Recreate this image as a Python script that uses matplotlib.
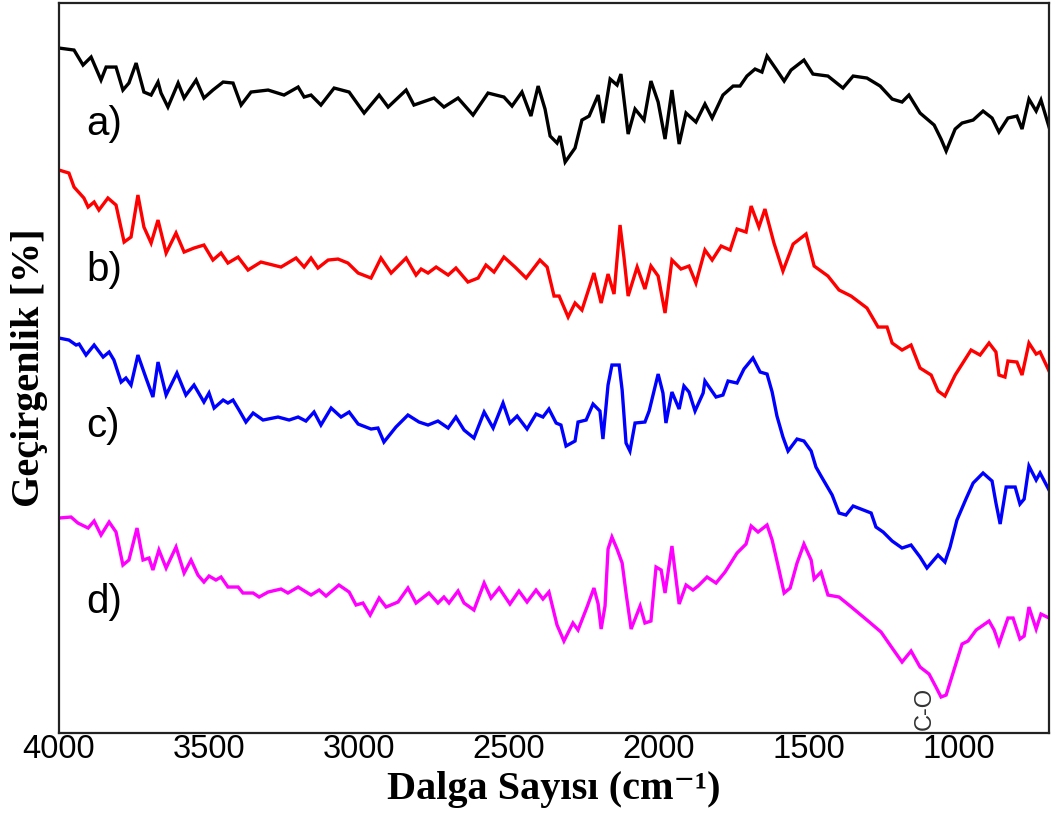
import matplotlib
matplotlib.use("Agg")
import matplotlib.pyplot as plt
from matplotlib import font_manager

# ---------------- data (wavenumber cm-1, transmittance a.u., offset per trace) ----------------
wn_a = [4000, 3950, 3920, 3893, 3860, 3843, 3810, 3787, 3767, 3743, 3717, 3693, 3670, 3660, 3637,
        3603, 3583, 3543, 3517, 3487, 3453, 3420, 3393, 3360, 3303, 3250, 3203, 3183, 3160, 3127,
        3083, 3033, 2983, 2933, 2903, 2843, 2817, 2750, 2717, 2670, 2620, 2570, 2517, 2490, 2457,
        2427, 2403, 2380, 2363, 2340, 2330, 2313, 2280, 2257, 2233, 2203, 2187, 2163, 2140, 2127,
        2103, 2080, 2050, 2027, 2003, 1980, 1957, 1933, 1910, 1877, 1847, 1823, 1787, 1753, 1730,
        1707, 1680, 1657, 1640, 1610, 1583, 1560, 1517, 1487, 1437, 1387, 1353, 1307, 1263, 1223,
        1190, 1167, 1130, 1083, 1060, 1043, 1013, 990, 953, 920, 890, 867, 837, 807, 790,
        767, 743, 727, 700]
t_a = [685, 683, 668, 676, 653, 666, 666, 643, 650, 670, 641, 638, 651, 640, 626,
       650, 635, 653, 635, 643, 651, 650, 628, 641, 643, 638, 646, 636, 638, 628,
       645, 641, 620, 638, 626, 643, 628, 635, 626, 635, 618, 640, 636, 627, 641,
       617, 647, 624, 597, 590, 597, 571, 585, 613, 617, 638, 610, 654, 648, 659,
       599, 624, 613, 652, 631, 594, 643, 589, 620, 611, 629, 615, 638, 647, 647,
       657, 664, 661, 677, 664, 652, 663, 673, 659, 657, 645, 657, 655, 647, 634,
       631, 638, 620, 608, 594, 582, 604, 610, 613, 622, 615, 601, 615, 617, 604,
       634, 622, 633, 606]

wn_b = [4000, 3967, 3950, 3917, 3903, 3883, 3867, 3837, 3810, 3783, 3760, 3737, 3717, 3693, 3670,
        3643, 3610, 3583, 3550, 3517, 3487, 3460, 3437, 3403, 3370, 3327, 3260, 3210, 3183, 3160,
        3137, 3103, 3070, 3037, 3003, 2960, 2927, 2893, 2843, 2810, 2793, 2770, 2743, 2703, 2677,
        2637, 2603, 2577, 2550, 2517, 2480, 2443, 2397, 2373, 2350, 2333, 2303, 2280, 2257, 2217,
        2193, 2170, 2150, 2130, 2117, 2103, 2073, 2047, 2027, 2003, 1980, 1957, 1927, 1900, 1877,
        1847, 1823, 1793, 1763, 1740, 1710, 1693, 1667, 1647, 1617, 1587, 1553, 1510, 1483, 1437,
        1400, 1360, 1307, 1270, 1240, 1223, 1190, 1160, 1130, 1093, 1070, 1047, 1013, 960, 930,
        900, 877, 867, 847, 837, 807, 790, 767, 743, 730, 700]
t_b = [563, 560, 546, 535, 526, 531, 523, 535, 528, 491, 496, 538, 506, 490, 513,
       480, 500, 481, 485, 488, 473, 480, 470, 476, 463, 471, 466, 475, 466, 475,
       465, 473, 474, 470, 460, 455, 475, 460, 475, 458, 464, 460, 466, 458, 465,
       451, 455, 468, 461, 476, 466, 455, 473, 466, 437, 437, 416, 430, 423, 460,
       430, 459, 439, 508, 476, 437, 466, 444, 467, 457, 420, 473, 464, 467, 450,
       483, 473, 487, 483, 504, 501, 527, 506, 524, 490, 462, 489, 499, 467, 457,
       443, 437, 425, 406, 406, 390, 383, 388, 365, 358, 342, 337, 358, 383, 378,
       390, 381, 358, 356, 372, 371, 358, 390, 379, 381, 362]

wn_c = [4000, 3967, 3943, 3933, 3910, 3883, 3853, 3833, 3817, 3793, 3777, 3760, 3737, 3710, 3687,
        3670, 3643, 3607, 3577, 3550, 3517, 3500, 3483, 3453, 3437, 3420, 3400, 3377, 3353, 3320,
        3270, 3233, 3203, 3177, 3150, 3127, 3093, 3060, 3033, 3003, 2960, 2937, 2917, 2877, 2837,
        2800, 2770, 2737, 2703, 2677, 2650, 2617, 2583, 2553, 2520, 2497, 2473, 2440, 2410, 2387,
        2367, 2343, 2327, 2310, 2280, 2270, 2243, 2220, 2197, 2187, 2170, 2157, 2133, 2123, 2110,
        2097, 2080, 2047, 2033, 2003, 1987, 1977, 1957, 1933, 1917, 1900, 1880, 1853, 1847, 1810,
        1787, 1770, 1740, 1717, 1687, 1663, 1640, 1623, 1607, 1587, 1570, 1540, 1517, 1493, 1477,
        1460, 1423, 1400, 1377, 1353, 1293, 1277, 1253, 1223, 1190, 1160, 1130, 1107, 1070, 1047,
        1030, 1007, 977, 953, 920, 890, 877, 863, 843, 813, 797, 783, 767, 743, 730, 700]
t_c = [395, 393, 388, 389, 378, 388, 376, 381, 373, 351, 355, 348, 378, 355, 336,
       371, 338, 360, 338, 348, 331, 340, 325, 333, 330, 333, 323, 311, 320, 313,
       316, 313, 316, 312, 321, 308, 325, 316, 321, 309, 304, 305, 291, 306, 318,
       311, 308, 312, 305, 316, 303, 295, 321, 305, 330, 310, 317, 304, 319, 316,
       324, 310, 308, 287, 292, 311, 313, 329, 322, 294, 348, 368, 368, 343, 290,
       282, 310, 311, 322, 359, 340, 310, 341, 324, 347, 341, 322, 340, 352, 336,
       338, 352, 350, 364, 375, 361, 359, 341, 317, 296, 282, 294, 292, 282, 266,
       257, 238, 220, 218, 227, 220, 206, 201, 192, 185, 188, 176, 165, 178, 171,
       186, 213, 234, 250, 260, 252, 230, 209, 246, 246, 229, 234, 267, 253, 260, 243]

wn_d = [4000, 3960, 3937, 3903, 3883, 3860, 3833, 3810, 3787, 3767, 3740, 3720, 3700, 3687, 3667,
        3643, 3610, 3583, 3560, 3537, 3517, 3500, 3477, 3460, 3437, 3403, 3387, 3353, 3333, 3303,
        3260, 3237, 3203, 3160, 3133, 3110, 3067, 3033, 3010, 2987, 2963, 2933, 2910, 2870, 2837,
        2810, 2767, 2737, 2717, 2700, 2670, 2650, 2617, 2583, 2560, 2533, 2497, 2467, 2440, 2410,
        2387, 2367, 2340, 2317, 2287, 2270, 2240, 2217, 2203, 2193, 2180, 2170, 2157, 2140, 2123,
        2110, 2093, 2063, 2047, 2027, 2010, 1993, 1980, 1957, 1933, 1910, 1887, 1870, 1840, 1810,
        1780, 1740, 1710, 1693, 1670, 1640, 1623, 1600, 1583, 1563, 1540, 1517, 1493, 1483, 1460,
        1437, 1400, 1363, 1307, 1260, 1223, 1190, 1160, 1130, 1100, 1077, 1060, 1043, 1020, 990,
        970, 943, 900, 883, 867, 837, 820, 797, 783, 767, 743, 727, 700]
t_d = [215, 216, 210, 205, 212, 198, 211, 201, 168, 173, 205, 173, 175, 163, 183,
       165, 186, 160, 173, 158, 151, 157, 153, 156, 146, 146, 140, 140, 136, 141,
       144, 140, 146, 138, 143, 137, 148, 141, 128, 130, 118, 135, 126, 131, 145,
       130, 140, 130, 136, 130, 142, 130, 123, 150, 135, 145, 129, 142, 131, 143,
       134, 141, 108, 92, 110, 103, 126, 145, 129, 104, 127, 184, 196, 184, 170,
       140, 104, 127, 110, 112, 166, 163, 140, 187, 129, 148, 143, 147, 156, 150,
       161, 180, 189, 207, 201, 208, 193, 163, 140, 145, 170, 189, 173, 154, 161,
       138, 136, 127, 113, 101, 85, 71, 82, 66, 59, 46, 36, 38, 60, 89,
       92, 103, 112, 103, 89, 115, 115, 94, 97, 126, 104, 119, 115]

series = [(wn_a, t_a, "black"), (wn_b, t_b, "#ff0000"), (wn_c, t_c, "#0000ff"), (wn_d, t_d, "#ff00ff")]
labels = ["a)", "b)", "c)", "d)"]
label_y = [609, 463, 307, 131]
xticks = [4000, 3500, 3000, 2500, 2000, 1500, 1000]

# ---------------- fonts ----------------
names = {f.name for f in font_manager.fontManager.ttflist}
tick_font = "Liberation Sans Narrow" if "Liberation Sans Narrow" in names else "Liberation Sans"
tick_size = 27 if tick_font == "Liberation Sans Narrow" else 23.5

fig = plt.figure(figsize=(10.52, 8.25), dpi=100)
ax = fig.add_axes([0.0561, 0.1115, 0.9411, 0.8848])

for wn, t, col in series:
    ax.plot(wn, t, color=col, lw=2.4, solid_joinstyle="miter")

ax.set_xlim(4000, 700)
ax.set_ylim(0, 730)
ax.set_xticks(xticks)
ax.set_xticklabels([str(v) for v in xticks], fontfamily=tick_font, fontsize=tick_size)
ax.set_yticks([])
ax.tick_params(axis="x", length=0, pad=1)

for s in ax.spines.values():
    s.set_linewidth(1.6)
    s.set_color("#222222")

for lab, ly in zip(labels, label_y):
    ax.text(3910, ly, lab, fontsize=29, fontfamily="Liberation Sans", ha="left", va="center", color="black")

ax.text(1113, 25, "C-O", rotation=90, fontsize=17, fontfamily="Liberation Sans",
        ha="center", va="center", color="#333333")

ax.set_xlabel("Dalga Sayısı (cm⁻¹)", fontsize=29, fontweight="bold",
              fontfamily=["Liberation Serif", "DejaVu Serif"], labelpad=4)
ax.set_ylabel("Geçirgenlik [%]", fontsize=29, fontweight="bold",
              fontfamily=["Liberation Serif", "DejaVu Serif"], labelpad=8)

fig.savefig("out.png", dpi=100)
